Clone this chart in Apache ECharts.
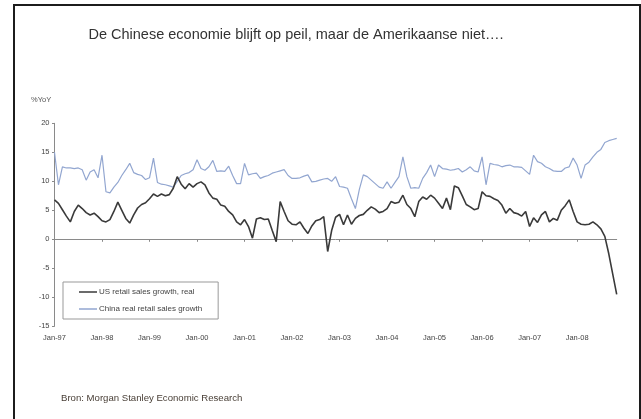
<!DOCTYPE html>
<html>
<head>
<meta charset="utf-8">
<script src="https://cdn.jsdelivr.net/npm/echarts@6/dist/echarts.min.js"></script>
<style>
html,body{margin:0;padding:0;background:#fff;}
#wrap{position:relative;width:641px;height:419px;overflow:hidden;background:#fff;}
#chart{position:absolute;left:0;top:0;width:641px;height:419px;}
#frame{position:absolute;left:13px;top:4px;width:628px;height:440px;box-sizing:border-box;border:2px solid #1c1c1c;pointer-events:none;}
</style>
</head>
<body>
<div id="wrap"><div id="chart"></div><div id="frame"></div></div>
<script>
// Tick label years and months
const years = ['97','98','99','00','01','02','03','04','05','06','07','08'];
const months = ['Jan','Feb','Mar','Apr','May','Jun','Jul','Aug','Sep','Oct','Nov','Dec'];
const lastMonthIndex2008 = 10; // Nov-08

const categories = [];
years.forEach(function (y, yi) {
  months.forEach(function (m, mi) {
    if (yi < years.length - 1 || mi <= lastMonthIndex2008) categories.push(m + '-' + y);
  });
});

// US retail sales growth, real (%YoY), Jan-97 .. Nov-08
const usRetail = [
  6.8, 6.2, 5.1, 4.0, 3.0, 4.8, 5.9, 5.3, 4.6, 4.2, 4.5, 3.9,
  3.2, 3.0, 3.4, 4.8, 6.4, 5.0, 3.6, 2.8, 4.2, 5.4, 6.0, 6.3,
  7.0, 7.8, 7.4, 7.8, 7.5, 7.7, 8.8, 10.8, 9.5, 8.7, 9.6, 9.0,
  9.6, 9.9, 9.4, 8.0, 7.1, 6.9, 5.9, 5.7, 4.8, 4.2, 3.0, 2.5,
  3.4, 2.2, 0.2, 3.5, 3.7, 3.4, 3.5, 1.5, -0.4, 6.5, 4.8, 3.2,
  2.6, 2.5, 3.0, 1.9, 1.0, 2.3, 3.2, 3.4, 3.9, -2.1, 1.5, 3.8,
  4.3, 2.5, 4.2, 2.6, 3.6, 4.1, 4.3, 5.0, 5.6, 5.2, 4.6, 4.8,
  5.3, 6.5, 6.2, 6.4, 7.6, 6.0, 5.3, 3.9, 6.5, 7.3, 6.9, 7.6,
  7.1, 6.2, 5.3, 7.1, 5.1, 9.2, 8.9, 7.5, 6.0, 5.6, 5.1, 5.3,
  8.2, 7.5, 7.4, 7.0, 6.7, 5.9, 4.5, 5.3, 4.6, 4.4, 4.0, 4.8,
  2.2, 3.7, 2.9, 4.2, 4.8, 3.0, 3.6, 3.3, 5.0, 5.8, 6.8, 4.8,
  3.0, 2.6, 2.5, 2.6, 3.0, 2.5, 1.8, 0.5, -2.5, -6.0, -9.5
];

// China real retail sales growth (%YoY), Jan-97 .. Nov-08
const chinaRetail = [
  15.0, 9.4, 12.5, 12.3, 12.3, 12.2, 12.3, 12.0, 10.2, 11.6, 12.0, 10.6,
  14.5, 8.2, 8.0, 9.0, 9.8, 11.0, 12.0, 13.1, 11.5, 11.2, 11.0, 10.3,
  10.6, 14.0, 9.8, 9.5, 9.4, 9.2, 9.0, 10.0, 11.0, 11.3, 11.5, 12.0,
  13.7, 12.2, 11.9, 12.5, 13.6, 11.7, 11.8, 11.7, 12.6, 11.0, 9.6, 9.6,
  13.1, 11.1, 11.3, 11.4, 10.5, 10.8, 11.0, 11.4, 11.6, 11.8, 12.0, 11.0,
  10.5, 10.5, 10.6, 10.9, 11.1, 9.9, 10.0, 10.2, 10.4, 10.5, 10.0, 10.8,
  9.1, 9.0, 8.8, 7.0, 5.3, 8.6, 11.1, 10.8, 10.2, 9.6, 9.0, 8.8,
  9.9, 8.8, 9.8, 10.8, 14.2, 10.8, 8.8, 8.9, 8.8, 10.5, 11.5, 12.8,
  10.8, 12.8, 12.2, 12.1, 11.9, 12.0, 12.2, 11.6, 12.0, 12.5, 11.8, 11.6,
  14.2, 9.4, 13.1, 12.9, 12.8, 12.5, 12.7, 12.8, 12.5, 12.5, 12.4, 11.8,
  11.2, 14.5, 13.4, 13.1, 12.5, 12.2, 11.8, 11.7, 11.7, 12.3, 12.5, 14.0,
  12.8, 10.5, 12.8, 13.3, 14.2, 15.0, 15.5, 16.7, 17.0, 17.2, 17.4
];

const yTicks = { min: -15, max: 20, interval: 5 };
const seriesNames = ['US retail sales growth, real', 'China real retail sales growth'];
const titleText = 'De Chinese economie blijft op peil, maar de Amerikaanse niet….';
const unitText = '%YoY';
const sourceText = 'Bron: Morgan Stanley Economic Research';

const chart = echarts.init(document.getElementById('chart'), null, { renderer: 'canvas' });
const FONT = 'Liberation Sans, Arial, sans-serif';
const isJan = function (idx) { return idx % 12 === 0; };

chart.setOption({
  backgroundColor: '#ffffff',
  animation: false,
  title: {
    text: titleText,
    left: 296, top: 27, textAlign: 'center', padding: 0,
    textStyle: { fontFamily: FONT, fontSize: 14.5, fontWeight: 'normal', color: '#333' }
  },
  graphic: [
    { type: 'text', left: 31, top: 96, style: { text: unitText, fontFamily: FONT, fontSize: 7.5, fill: '#555' } },
    { type: 'text', left: 61, top: 393, style: { text: sourceText, fontFamily: FONT, fontSize: 9.6, fill: '#4a4038' } }
  ],
  legend: {
    orient: 'vertical',
    left: 63, top: 282,
    padding: [6, 16, 6, 16],
    itemGap: 9,
    itemWidth: 18, itemHeight: 1.5,
    icon: 'rect',
    borderColor: '#999', borderWidth: 1,
    textStyle: { fontFamily: FONT, fontSize: 8, color: '#444', padding: [0, 0, 0, -3] },
    data: seriesNames
  },
  grid: { left: 54.5, right: 24.3, top: 123.3, bottom: 92.7, containLabel: false, outerBoundsMode: 'none' },
  xAxis: {
    type: 'category',
    data: categories,
    boundaryGap: false,
    axisLine: { onZero: true, lineStyle: { color: '#8a8a8a', width: 1 } },
    axisTick: { show: true, interval: isJan, length: 2.5, lineStyle: { color: '#8a8a8a' } },
    axisLabel: { interval: isJan, margin: 8, fontFamily: FONT, fontSize: 7.5, color: '#444' },
    splitLine: { show: false }
  },
  yAxis: {
    type: 'value',
    min: yTicks.min, max: yTicks.max, interval: yTicks.interval,
    axisLine: { show: true, lineStyle: { color: '#8a8a8a', width: 1 } },
    axisTick: { show: true, length: 2.5, lineStyle: { color: '#8a8a8a' } },
    axisLabel: { margin: 5, fontFamily: FONT, fontSize: 7.5, color: '#444' },
    splitLine: { show: false }
  },
  series: [
    {
      name: seriesNames[0], type: 'line', data: usRetail, symbol: 'none', z: 3,
      itemStyle: { color: '#3a3a3a' },
      lineStyle: { color: '#3a3a3a', width: 1.6 }
    },
    {
      name: seriesNames[1], type: 'line', data: chinaRetail, symbol: 'none', z: 2,
      itemStyle: { color: '#92a6d0' },
      lineStyle: { color: '#92a6d0', width: 1.2 }
    }
  ]
});
</script>
</body>
</html>
